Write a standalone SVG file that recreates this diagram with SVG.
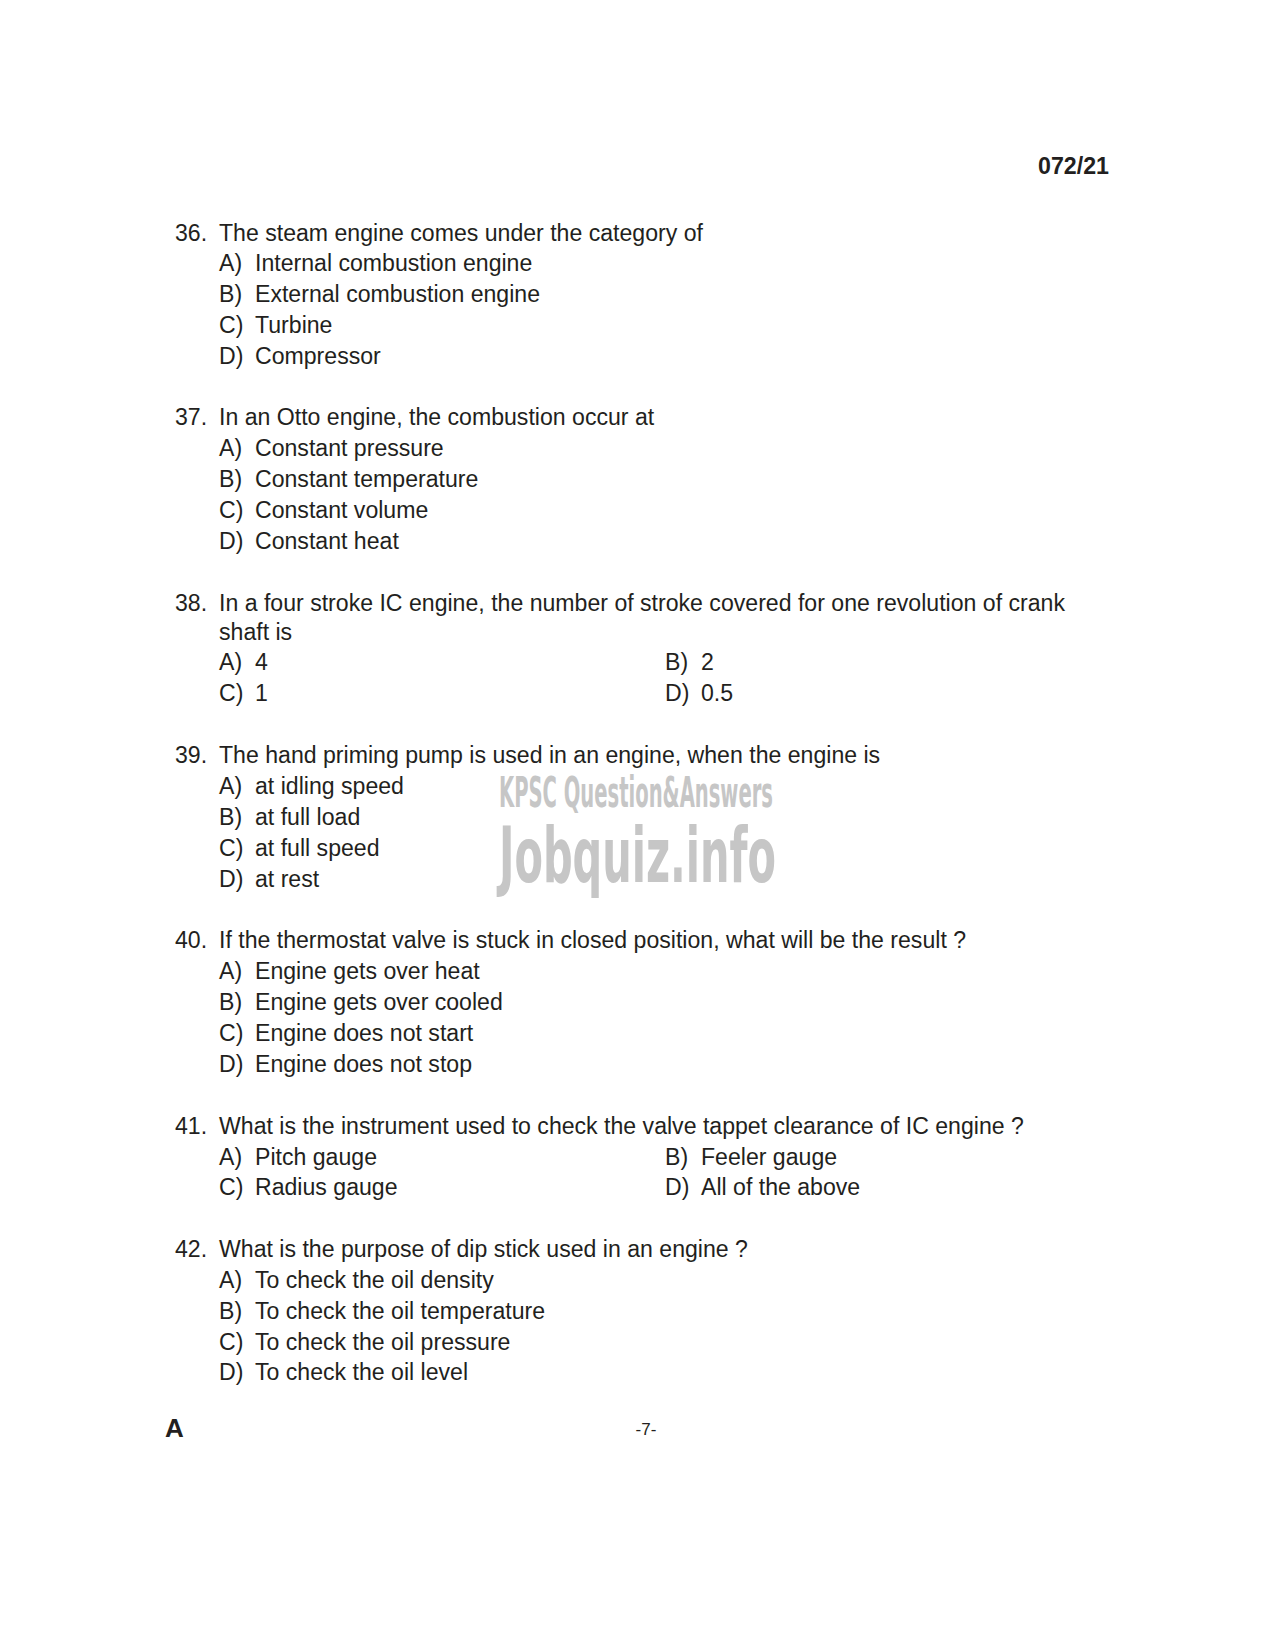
<svg xmlns="http://www.w3.org/2000/svg" width="1275" height="1650" viewBox="0 0 1275 1650">
<style>
.t{font-family:"Liberation Sans",Arial,sans-serif;font-size:23.1px;fill:#231f20}
.h{font-family:"Liberation Sans",Arial,sans-serif;font-size:23px;font-weight:bold;fill:#231f20}
.wm{font-family:"DejaVu Sans Condensed","Liberation Sans",sans-serif;font-weight:bold;fill:#c6c6c6}
</style>
<rect width="1275" height="1650" fill="#ffffff"/>
<text class="h" x="1109" y="174" text-anchor="end" textLength="71" lengthAdjust="spacingAndGlyphs">072/21</text>
<g id="watermark">
<text class="wm" x="499" y="807" font-size="42" textLength="274" lengthAdjust="spacingAndGlyphs">KPSC Question&amp;Answers</text>
<text class="wm" x="499" y="882" font-size="76" textLength="277" lengthAdjust="spacingAndGlyphs">Jobquiz.info</text>
</g>
<g id="q36" class="t">
<text x="175" y="241">36.</text><text x="219" y="241">The steam engine comes under the category of</text>
<text x="219" y="271">A)</text><text x="255" y="271">Internal combustion engine</text>
<text x="219" y="302">B)</text><text x="255" y="302">External combustion engine</text>
<text x="219" y="333">C)</text><text x="255" y="333">Turbine</text>
<text x="219" y="364">D)</text><text x="255" y="364">Compressor</text>
</g>
<g id="q37" class="t">
<text x="175" y="425">37.</text><text x="219" y="425">In an Otto engine, the combustion occur at</text>
<text x="219" y="456">A)</text><text x="255" y="456">Constant pressure</text>
<text x="219" y="487">B)</text><text x="255" y="487">Constant temperature</text>
<text x="219" y="518">C)</text><text x="255" y="518">Constant volume</text>
<text x="219" y="549">D)</text><text x="255" y="549">Constant heat</text>
</g>
<g id="q38" class="t">
<text x="175" y="611">38.</text><text x="219" y="611">In a four stroke IC engine, the number of stroke covered for one revolution of crank</text>
<text x="219" y="640">shaft is</text>
<text x="219" y="670">A)</text><text x="255" y="670">4</text>
<text x="665" y="670">B)</text><text x="701" y="670">2</text>
<text x="219" y="701">C)</text><text x="255" y="701">1</text>
<text x="665" y="701">D)</text><text x="701" y="701">0.5</text>
</g>
<g id="q39" class="t">
<text x="175" y="763">39.</text><text x="219" y="763">The hand priming pump is used in an engine, when the engine is</text>
<text x="219" y="794">A)</text><text x="255" y="794">at idling speed</text>
<text x="219" y="825">B)</text><text x="255" y="825">at full load</text>
<text x="219" y="856">C)</text><text x="255" y="856">at full speed</text>
<text x="219" y="887">D)</text><text x="255" y="887">at rest</text>
</g>
<g id="q40" class="t">
<text x="175" y="948">40.</text><text x="219" y="948">If the thermostat valve is stuck in closed position, what will be the result ?</text>
<text x="219" y="979">A)</text><text x="255" y="979">Engine gets over heat</text>
<text x="219" y="1010">B)</text><text x="255" y="1010">Engine gets over cooled</text>
<text x="219" y="1041">C)</text><text x="255" y="1041">Engine does not start</text>
<text x="219" y="1072">D)</text><text x="255" y="1072">Engine does not stop</text>
</g>
<g id="q41" class="t">
<text x="175" y="1134">41.</text><text x="219" y="1134">What is the instrument used to check the valve tappet clearance of IC engine ?</text>
<text x="219" y="1165">A)</text><text x="255" y="1165">Pitch gauge</text>
<text x="665" y="1165">B)</text><text x="701" y="1165">Feeler gauge</text>
<text x="219" y="1195">C)</text><text x="255" y="1195">Radius gauge</text>
<text x="665" y="1195">D)</text><text x="701" y="1195">All of the above</text>
</g>
<g id="q42" class="t">
<text x="175" y="1257">42.</text><text x="219" y="1257">What is the purpose of dip stick used in an engine ?</text>
<text x="219" y="1288">A)</text><text x="255" y="1288">To check the oil density</text>
<text x="219" y="1319">B)</text><text x="255" y="1319">To check the oil temperature</text>
<text x="219" y="1350">C)</text><text x="255" y="1350">To check the oil pressure</text>
<text x="219" y="1380">D)</text><text x="255" y="1380">To check the oil level</text>
</g>
<g id="footer">
<text x="165" y="1437" font-family="Liberation Sans,Arial,sans-serif" font-size="26" font-weight="bold" fill="#231f20">A</text>
<text x="646" y="1435" text-anchor="middle" font-family="Liberation Sans,Arial,sans-serif" font-size="17" fill="#231f20">-7-</text>
</g>
</svg>
